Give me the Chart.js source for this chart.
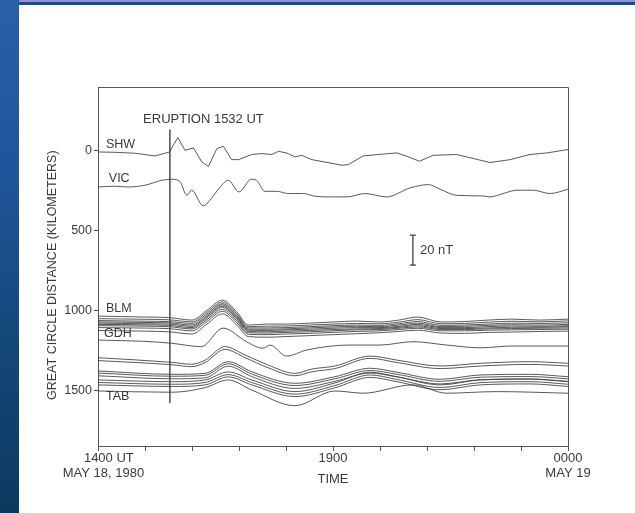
<!DOCTYPE html>
<html><head><meta charset="utf-8">
<script src="https://cdn.jsdelivr.net/npm/chart.js@4.4.1/dist/chart.umd.min.js"></script>
<style>
html,body{margin:0;padding:0;background:#fff;width:635px;height:513px;overflow:hidden}
#left{position:absolute;left:0;top:0;width:19px;height:513px;background:linear-gradient(180deg,#2a5faa 0%,#1f5499 35%,#134676 70%,#0b3a60 100%)}
#top{position:absolute;left:19px;top:0;width:616px;height:5px;background:#1a4b8e}
#topline{position:absolute;left:19px;top:0;width:616px;height:2px;background:#8f93d8}
#wrap{position:absolute;left:19px;top:5px;width:616px;height:508px}
</style></head><body>
<div id="left"></div><div id="top"></div><div id="topline"></div>
<div id="wrap"><canvas id="c" width="616" height="508"></canvas></div>
<script>
// ---------- data (hours UT on x, great-circle distance km on y) ----------
const xTickHours = [14,15,16,17,18,19,20,21,22,23,24];
const xTickLabels = {14:['      1400 UT','   MAY 18, 1980'], 19:['1900'], 24:['0000','MAY 19']};
const yTickKm = [0,500,1000,1500];

const shwTimes = [14.0,14.36,14.79,15.21,15.53,15.58,15.70,15.85,16.03,16.21,16.35,16.53,16.67,16.84,16.99,17.27,17.48,17.70,17.84,18.01,18.19,18.33,18.55,18.83,19.19,19.33,19.64,20.0,20.36,20.57,20.84,21.13,21.63,22.34,22.77,23.19,23.55,24.0];
const shwKm = [6,8,14,31,6,-25,-84,-4,-19,69,96,-15,-29,54,54,22,16,22,2,12,37,27,54,69,89,85,31,21,12,33,64,27,22,72,54,22,12,-9];

const vicTimes = [14.0,14.36,14.64,15.0,15.36,15.57,15.74,15.89,15.99,16.24,16.38,16.60,16.77,17.0,17.26,17.37,17.55,17.80,18.05,18.37,18.62,18.94,19.30,19.68,20.14,20.64,21.03,21.28,21.63,22.20,22.34,22.62,22.91,23.26,23.62,24.0];
const vicKm = [225,220,225,214,183,177,189,277,245,343,308,225,183,256,177,183,252,252,266,266,283,287,287,266,287,231,210,239,277,281,287,266,245,245,266,239];

const bundleTimes = [14.0,14.5,15.0,15.5,16.0,16.3,16.65,16.95,17.2,17.6,18.0,18.5,19.0,19.5,20.0,20.4,20.8,21.3,21.8,22.3,22.8,23.4,24.0];
const blmKm   = [1032,1035,1038,1041,1057,1000,932,1005,1088,1082,1082,1076,1069,1063,1069,1057,1038,1069,1066,1057,1051,1057,1051];
const bundle2 = [1048,1050,1052,1055,1068,1012,944,1016,1098,1095,1094,1088,1082,1078,1080,1070,1054,1080,1078,1070,1064,1068,1062];
const bundle3 = [1060,1062,1064,1066,1078,1022,954,1026,1106,1106,1104,1098,1092,1088,1090,1080,1066,1090,1088,1082,1076,1078,1074];
const bundle4 = [1068,1070,1072,1074,1088,1032,962,1034,1114,1114,1112,1106,1100,1096,1098,1088,1076,1098,1096,1090,1086,1088,1084];
const bundle5 = [1076,1078,1080,1082,1096,1040,970,1042,1120,1122,1118,1114,1108,1104,1104,1096,1084,1104,1104,1098,1094,1096,1092];
const bundle6 = [1084,1085,1087,1090,1104,1048,978,1050,1128,1130,1126,1122,1116,1112,1110,1102,1092,1110,1110,1106,1102,1102,1098];
const bundle7 = [1092,1093,1095,1098,1112,1058,990,1060,1136,1138,1134,1130,1124,1118,1116,1108,1100,1116,1116,1112,1110,1108,1106];
const bundle8 = [1104,1105,1107,1110,1124,1070,1002,1072,1146,1148,1144,1140,1134,1128,1124,1116,1108,1124,1124,1120,1118,1116,1114];
const gdhKm   = [1122,1124,1126,1130,1144,1086,1018,1088,1160,1164,1160,1154,1148,1142,1136,1128,1120,1138,1140,1134,1132,1128,1126];

const bTimes = [14.0,15.0,15.57,16.2,16.66,17.16,17.51,17.66,18.01,18.44,19.36,20.0,20.70,21.42,22.13,22.83,24.0];
const bKm = [1182,1190,1202,1223,1107,1192,1233,1213,1282,1244,1213,1213,1192,1213,1230,1219,1219];

const cTimes = [14.0,15.57,15.99,16.28,16.70,17.13,17.62,18.19,18.55,19.04,19.79,20.36,21.28,22.13,23.19,24.0];
const c1Km = [1292,1321,1333,1307,1223,1275,1338,1390,1363,1344,1282,1307,1344,1327,1317,1327];
const c2Km = [1310,1336,1348,1322,1240,1292,1355,1405,1380,1360,1296,1322,1360,1344,1334,1344];

const dTimes = [14.0,15.57,16.28,16.77,17.27,18.19,19.04,19.79,20.36,21.28,22.13,23.19,24.0];
const d1Km = [1375,1396,1390,1317,1380,1452,1411,1358,1383,1427,1400,1396,1411];
const d2Km = [1388,1408,1402,1330,1394,1466,1424,1372,1396,1440,1414,1410,1424];
const d3Km = [1405,1424,1418,1345,1410,1484,1440,1388,1412,1456,1430,1426,1440];
const e1Km = [1431,1442,1431,1381,1431,1504,1450,1383,1411,1462,1431,1425,1442];
const e2Km = [1447,1458,1447,1398,1447,1520,1466,1400,1428,1478,1448,1442,1458];
const e3Km = [1462,1472,1462,1412,1462,1535,1480,1415,1442,1492,1462,1456,1472];

const tabTimes = [14.0,15.57,16.28,16.77,17.27,18.19,19.04,19.64,20.70,21.42,22.48,24.0];
const tabKm = [1500,1508,1479,1431,1494,1592,1500,1514,1462,1514,1504,1514];

const eruptionHour = 15.53;
const eruptionSpanKm = [-135, 1575];
const scaleBarHour = 20.70;
const scaleBarKm = [526, 713];

// annotation text and anchors
const stationLabels = ['SHW','VIC','BLM','GDH','TAB'];
const stationLabelHour = [14.17,14.23,14.17,14.13,14.17];
const stationLabelKm = [-42,170,982,1144,1537];
const eruptionLabel = 'ERUPTION 1532 UT';
const eruptionLabelAt = [14.96, -196];
const scaleBarLabel = '20 nT';
const scaleBarLabelAt = [20.85, 620];

// ---------- styling ----------
const FONT = '"Liberation Sans", Arial, Helvetica, sans-serif';
const textColor = '#3a3a3a';
const traceColor = 'rgba(60,60,60,0.85)';
const axisColor = '#555';

const pts = (t, v) => t.map((h, i) => ({x: h, y: v[i]}));
const trace = (label, t, v, mode) => ({
  label, data: pts(t, v), borderColor: traceColor, borderWidth: 1,
  pointRadius: 0, fill: false,
  cubicInterpolationMode: mode === 'lin' ? 'default' : 'monotone', tension: 0
});

const datasets = [
  trace('SHW', shwTimes, shwKm, 'lin'),
  trace('VIC', vicTimes, vicKm),
  trace('BLM', bundleTimes, blmKm),
  trace('b2', bundleTimes, bundle2),
  trace('b3', bundleTimes, bundle3),
  trace('b4', bundleTimes, bundle4),
  trace('b5', bundleTimes, bundle5),
  trace('b6', bundleTimes, bundle6),
  trace('b7', bundleTimes, bundle7),
  trace('b8', bundleTimes, bundle8),
  trace('GDH', bundleTimes, gdhKm),
  trace('B', bTimes, bKm),
  trace('C1', cTimes, c1Km),
  trace('C2', cTimes, c2Km),
  trace('D1', dTimes, d1Km),
  trace('D2', dTimes, d2Km),
  trace('D3', dTimes, d3Km),
  trace('E1', dTimes, e1Km),
  trace('E2', dTimes, e2Km),
  trace('E3', dTimes, e3Km),
  trace('TAB', tabTimes, tabKm),
  { label: 'eruption', data: eruptionSpanKm.map(k => ({x: eruptionHour, y: k})),
    borderColor: '#333', borderWidth: 1.3, pointRadius: 0 },
  { label: 'scale', data: scaleBarKm.map(k => ({x: scaleBarHour, y: k})),
    borderColor: '#333', borderWidth: 1.2, pointStyle: 'line', pointRadius: 3,
    pointBorderWidth: 1.2, pointBorderColor: '#333', clip: false }
];

const annot = {
  id: 'annot',
  afterDatasetsDraw(chart) {
    const {ctx, chartArea: a} = chart;
    const x = chart.scales.x, y = chart.scales.y;
    ctx.save();
    ctx.fillStyle = textColor;
    ctx.textBaseline = 'middle';
    ctx.textAlign = 'left';
    ctx.font = '12.5px ' + FONT;
    stationLabels.forEach((s, i) => ctx.fillText(s, x.getPixelForValue(stationLabelHour[i]), y.getPixelForValue(stationLabelKm[i])));
    ctx.font = '13px ' + FONT;
    ctx.fillText(eruptionLabel, x.getPixelForValue(eruptionLabelAt[0]), y.getPixelForValue(eruptionLabelAt[1]));
    ctx.fillText(scaleBarLabel, x.getPixelForValue(scaleBarLabelAt[0]), y.getPixelForValue(scaleBarLabelAt[1]));
    ctx.strokeStyle = axisColor; ctx.lineWidth = 1;
    ctx.beginPath();
    ctx.moveTo(a.left, Math.round(a.top) + 0.5);
    ctx.lineTo(Math.round(a.right) + 0.5, Math.round(a.top) + 0.5);
    ctx.lineTo(Math.round(a.right) + 0.5, a.bottom);
    ctx.stroke();
    ctx.restore();
  }
};

new Chart(document.getElementById('c'), {
  type: 'line',
  data: { datasets },
  plugins: [annot],
  options: {
    responsive: false, animation: false, devicePixelRatio: 1,
    layout: { padding: { top: 82, right: 67, left: 0, bottom: 0 } },
    plugins: { legend: { display: false }, tooltip: { enabled: false } },
    scales: {
      x: {
        type: 'linear', min: 14, max: 24,
        afterBuildTicks: ax => { ax.ticks = xTickHours.map(v => ({value: v})); },
        afterFit: ax => { ax.height = 67; },
        ticks: { autoSkip: false, maxRotation: 0, padding: 0, color: textColor,
          font: { family: FONT, size: 13, lineHeight: 1.15 },
          callback: v => xTickLabels[v] || '' },
        grid: { drawOnChartArea: false, drawTicks: true, tickLength: 5, color: axisColor },
        border: { display: true, color: axisColor, width: 1 },
        title: { display: true, text: 'TIME', color: textColor,
          font: { family: FONT, size: 13 }, padding: { top: 0, bottom: 26 } }
      },
      y: {
        type: 'linear', reverse: true, min: -400, max: 1844,
        afterBuildTicks: ax => { ax.ticks = yTickKm.map(v => ({value: v})); },
        afterFit: ax => { ax.width = 79; },
        ticks: { padding: 2, color: textColor, font: { family: FONT, size: 12.5 },
          callback: v => String(v) },
        grid: { drawOnChartArea: false, drawTicks: true, tickLength: 4, color: axisColor },
        border: { display: true, color: axisColor, width: 1 },
        title: { display: true, text: 'GREAT CIRCLE DISTANCE (KILOMETERS)     ', color: textColor,
          font: { family: FONT, size: 12.5 }, padding: { top: 26.5, bottom: 0 } }
      }
    }
  }
});
</script></body></html>
